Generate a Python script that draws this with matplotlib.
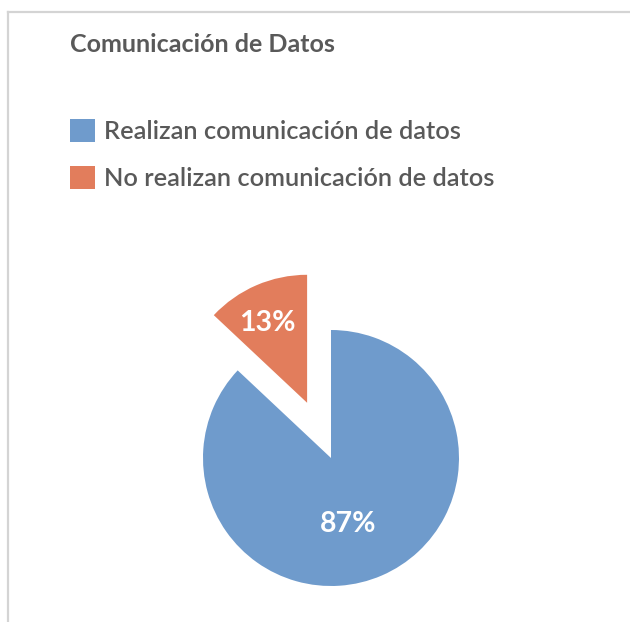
import matplotlib
matplotlib.use("Agg")
import matplotlib.pyplot as plt
from matplotlib.lines import Line2D
from matplotlib.patches import Patch
import numpy as np

categories = ["Realizan comunicación de datos", "No realizan comunicación de datos"]
values = [87, 13]
colors = ["#6f9bcc", "#e27d5c"]
title = "Comunicación de Datos"

W, H = 630, 622
fig = plt.figure(figsize=(W / 100, H / 100), dpi=100)
fig.patch.set_facecolor("white")

# border lines
fig.add_artist(Line2D([8 / W, 1], [1 - 12 / H, 1 - 12 / H], color="#d4d4d4", lw=1.6))
fig.add_artist(Line2D([8 / W, 8 / W], [1 - 12 / H, 0], color="#d4d4d4", lw=1.6))

# title
fig.text(70 / W, 1 - 44 / H, title, fontsize=18, fontweight="bold", color="#595959",
         family=["Lato", "DejaVu Sans"], va="center", ha="left")

# pie axes: center (331, 458) px, radius 128 px
cx, cy, R = 331, 458, 128
half = 190
ax = fig.add_axes([(cx - half) / W, 1 - (cy + half) / H, 2 * half / W, 2 * half / H])
ax.axis("off")

wedges, texts, autotexts = ax.pie(values, colors=colors, startangle=90, counterclock=False,
                                  explode=[0, 0.47], autopct="%d%%", pctdistance=0.6,
                                  wedgeprops=dict(linewidth=0), radius=1)
ax.set_xlim(-half / R, half / R)
ax.set_ylim(-half / R, half / R)
ax.set_aspect("equal")
dists = [0.53, 0.70]
shifts = [-9, 3]
for w, t, d, s in zip(wedges, autotexts, dists, shifts):
    ang = np.deg2rad((w.theta1 + w.theta2) / 2 + s)
    c = w.center
    t.set_position((c[0] + d * np.cos(ang), c[1] + d * np.sin(ang)))
    t.set_color("white")
    t.set_fontsize(20.5)
    t.set_fontweight("bold")
    t.set_family(["Lato", "DejaVu Sans"])
for w in wedges:
    w.set_clip_on(False)

handles = [Patch(facecolor=c, edgecolor="none") for c in colors]
fig.legend(handles, categories, loc="upper left", bbox_to_anchor=(70 / W, 1 - 119 / H),
           frameon=False, handlelength=1.0, handleheight=1.0,
           handletextpad=0.35, labelspacing=0.9, borderpad=0, borderaxespad=0,
           labelcolor="#595959", prop=dict(family=["Lato", "DejaVu Sans"], size=18.3, weight="semibold"))

fig.savefig("out.png", dpi=100)
